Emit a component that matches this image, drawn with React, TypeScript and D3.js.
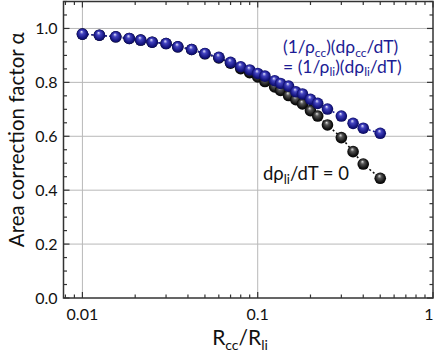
import React from "react";
import * as d3 from "d3";

const ratio = [0.01, 0.0125, 0.0155, 0.0185, 0.0215, 0.025, 0.03, 0.035, 0.042, 0.05, 0.06, 0.07, 0.08, 0.09, 0.1, 0.11, 0.125, 0.135, 0.15, 0.165, 0.18, 0.2, 0.22, 0.25, 0.3, 0.35, 0.4, 0.5];
const alphaEqual = [0.979, 0.975, 0.969, 0.963, 0.957, 0.949, 0.944, 0.932, 0.922, 0.907, 0.893, 0.874, 0.858, 0.846, 0.833, 0.823, 0.806, 0.796, 0.786, 0.765, 0.757, 0.737, 0.722, 0.701, 0.675, 0.648, 0.63, 0.611];
const alphaZero = [0.979, 0.975, 0.969, 0.963, 0.957, 0.949, 0.944, 0.932, 0.922, 0.906, 0.891, 0.871, 0.851, 0.836, 0.82, 0.803, 0.783, 0.77, 0.751, 0.736, 0.72, 0.695, 0.675, 0.642, 0.595, 0.543, 0.497, 0.444];
const yTicks = [0.0, 0.2, 0.4, 0.6, 0.8, 1.0];
const yTickLabels = ["0.0", "0.2", "0.4", "0.6", "0.8", "1.0"];
const xTicks = [0.01, 0.1, 1];
const xTickLabels = ["0.01", "0.1", "1"];

const W = 436;
const H = 352;
const L = 63.5, R = 433, T = 1.5, B = 298;
const FONT = "Lato, 'Open Sans', sans-serif";
const BLUE = "#1c1c94";

export default function App() {
  const x = d3.scaleLog().domain([0.0078, 1]).range([L, R]);
  const y = d3.scaleLinear().domain([0, 1.1]).range([B, T]);

  const minorX: number[] = [];
  [0.001, 0.01, 0.1].forEach((d) => {
    for (let k = 2; k <= 9; k++) {
      const v = d * k;
      if (v >= 0.0078 && v < 1) minorX.push(v);
    }
  });
  const minorY: number[] = d3.range(0, 23).map((i) => i * 0.05).filter((v) => v <= 1.1 && Math.round(v * 100) % 20 !== 0);

  const line = d3.line<[number, number]>().x((d) => x(d[0])).y((d) => y(d[1]));
  const blackPts: [number, number][] = ratio.map((r, i) => [r, alphaZero[i]]);
  const bluePts: [number, number][] = ratio.map((r, i) => [r, alphaEqual[i]]);
  const rad = 5.8;

  return (
    <svg width={W} height={H} style={{ position: "absolute", left: 0, top: 0 }} fontFamily={FONT}>
      <defs>
        <radialGradient id="gBlue" cx="0.5" cy="0.5" r="0.55" fx="0.42" fy="0.28">
          <stop offset="0" stopColor="#e8e8ff" />
          <stop offset="0.3" stopColor="#4444c0" />
          <stop offset="0.75" stopColor="#14147e" />
          <stop offset="1" stopColor="#08084a" />
        </radialGradient>
        <radialGradient id="gBlack" cx="0.5" cy="0.5" r="0.55" fx="0.42" fy="0.28">
          <stop offset="0" stopColor="#e0e0e0" />
          <stop offset="0.3" stopColor="#555" />
          <stop offset="0.75" stopColor="#111" />
          <stop offset="1" stopColor="#000" />
        </radialGradient>
      </defs>
      <rect x={0} y={0} width={W} height={H} fill="#fff" />
      {/* grid */}
      {yTicks.filter((v) => v > 0).map((v) => (
        <line key={"gy" + v} x1={L} x2={R} y1={y(v)} y2={y(v)} stroke="#b8b8b8" strokeWidth={1} />
      ))}
      {xTicks.filter((v) => v < 1).map((v) => (
        <line key={"gx" + v} x1={x(v)} x2={x(v)} y1={T} y2={B} stroke="#b8b8b8" strokeWidth={1} />
      ))}
      {/* ticks */}
      {yTicks.map((v) => (
        <g key={"ty" + v}>
          <line x1={L} x2={L + 6} y1={y(v)} y2={y(v)} stroke="#333" strokeWidth={1.2} />
          <line x1={R} x2={R - 6} y1={y(v)} y2={y(v)} stroke="#333" strokeWidth={1.2} />
        </g>
      ))}
      {minorY.map((v) => (
        <g key={"my" + v}>
          <line x1={L} x2={L + 3.5} y1={y(v)} y2={y(v)} stroke="#333" strokeWidth={1.2} />
          <line x1={R} x2={R - 3.5} y1={y(v)} y2={y(v)} stroke="#333" strokeWidth={1.2} />
        </g>
      ))}
      {xTicks.map((v) => (
        <g key={"tx" + v}>
          <line x1={x(v)} x2={x(v)} y1={B} y2={B - 6} stroke="#333" strokeWidth={1.2} />
          <line x1={x(v)} x2={x(v)} y1={T} y2={T + 6} stroke="#333" strokeWidth={1.2} />
        </g>
      ))}
      {minorX.map((v) => (
        <g key={"mx" + v}>
          <line x1={x(v)} x2={x(v)} y1={B} y2={B - 3.5} stroke="#333" strokeWidth={1.2} />
          <line x1={x(v)} x2={x(v)} y1={T} y2={T + 3.5} stroke="#333" strokeWidth={1.2} />
        </g>
      ))}
      <rect x={L} y={T} width={R - L} height={B - T} fill="none" stroke="#333" strokeWidth={1.5} />
      {/* tick labels */}
      {yTicks.map((v, i) => (
        <text key={"ly" + v} x={L - 6} y={y(v) + 5.5} textAnchor="end" fontSize={16} fill="#111">
          {yTickLabels[i]}
        </text>
      ))}
      {xTicks.map((v, i) => (
        <text key={"lx" + v} x={Math.min(x(v), 429)} y={320} textAnchor="middle" fontSize={16} fill="#111">
          {xTickLabels[i]}
        </text>
      ))}
      {/* axis titles */}
      <text transform={`translate(24,${(T + B) / 2 - 10}) rotate(-90)`} textAnchor="middle" fontSize={20.5} fill="#111">
        Area correction factor α
      </text>
      <text x={240} y={345} textAnchor="middle" fontSize={21} fill="#111">
        R<tspan fontSize={14} dy={5}>cc</tspan>
        <tspan dy={-5}>/R</tspan>
        <tspan fontSize={14} dy={5}>li</tspan>
      </text>
      {/* series */}
      <path d={line(blackPts) || ""} fill="none" stroke="#111" strokeWidth={1.6} strokeDasharray="2,2.5" />
      {blackPts.map((p, i) => (
        <circle key={"bk" + i} cx={x(p[0])} cy={y(p[1])} r={rad} fill="url(#gBlack)" />
      ))}
      <path d={line(bluePts) || ""} fill="none" stroke={BLUE} strokeWidth={1.6} strokeDasharray="2,2.5" />
      {bluePts.map((p, i) => (
        <circle key={"bl" + i} cx={x(p[0])} cy={y(p[1])} r={rad} fill="url(#gBlue)" />
      ))}
      {/* annotations */}
      <text x={283} y={53} fontSize={17.5} fill={BLUE}>
        (1/ρ<tspan fontSize={12} dy={3.5}>cc</tspan>
        <tspan dy={-3.5}>)(dρ</tspan>
        <tspan fontSize={12} dy={3.5}>cc</tspan>
        <tspan dy={-3.5}>/dT)</tspan>
      </text>
      <text x={283} y={72.5} fontSize={17.5} fill={BLUE}>
        = (1/ρ<tspan fontSize={12} dy={3.5}>li</tspan>
        <tspan dy={-3.5}>)(dρ</tspan>
        <tspan fontSize={12} dy={3.5}>li</tspan>
        <tspan dy={-3.5}>/dT)</tspan>
      </text>
      <text x={263} y={180} fontSize={18.5} fill="#111">
        dρ<tspan fontSize={13} dy={4}>li</tspan>
        <tspan dy={-4}>/dT = 0</tspan>
      </text>
    </svg>
  );
}
